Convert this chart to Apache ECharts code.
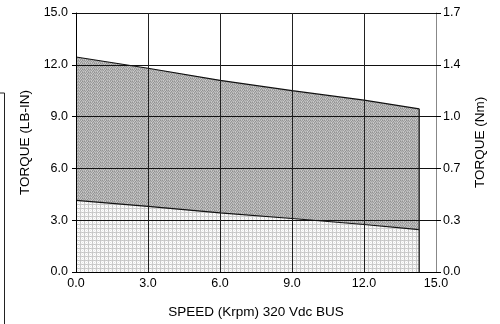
<!DOCTYPE html>
<html>
<head>
<meta charset="utf-8">
<script src="https://cdn.jsdelivr.net/npm/echarts@6/dist/echarts.min.js"></script>
<style>html,body{margin:0;padding:0;background:#fff;}#c{width:500px;height:324px;}</style>
</head>
<body>
<div id="c"></div>
<script>
// Data
var speedTicks = [0, 3, 6, 9, 12, 15];
var torqueLbInTicks = ['0.0', '3.0', '6.0', '9.0', '12.0', '15.0'];
var torqueNmTicks = ['0.0', '0.3', '0.7', '1.0', '1.4', '1.7'];
var peakSpeed = [0, 3, 6, 9, 12, 14.3];
var peakTorque = [12.45, 11.8, 11.1, 10.5, 9.95, 9.45];
var contSpeed = [0, 3, 6, 9, 12, 14.3];
var contTorque = [4.15, 3.8, 3.42, 3.1, 2.75, 2.45];
var maxSpeed = 14.3;

function pairs(xs, ys) { return xs.map(function (x, i) { return [x, ys[i]]; }); }

function makePattern(w, h, cells) {
  var cv = document.createElement('canvas');
  cv.width = w; cv.height = h;
  var ctx = cv.getContext('2d');
  for (var y = 0; y < h; y++) for (var x = 0; x < w; x++) {
    ctx.fillStyle = cells[y][x];
    ctx.fillRect(x, y, 1, 1);
  }
  return cv;
}
var darkPat = makePattern(6, 3, [
  ['#949494', '#bcbcbc', '#a2a2a2', '#c8c8c8', '#909090', '#b0b0b0'],
  ['#b6b6b6', '#9c9c9c', '#c6c6c6', '#929292', '#bebebe', '#a6a6a6'],
  ['#aaaaaa', '#cccccc', '#9a9a9a', '#b2b2b2', '#a6a6a6', '#c2c2c2']
]);
var lightPat = makePattern(4, 4, [
  ['#c4c4c4', '#d0d0d0', '#c4c4c4', '#d0d0d0'],
  ['#cccccc', '#f2f2f2', '#ffffff', '#eeeeee'],
  ['#c4c4c4', '#ffffff', '#e4e4e4', '#ffffff'],
  ['#d0d0d0', '#eeeeee', '#ffffff', '#f4f4f4']
]);

var chart = echarts.init(document.getElementById('c'), null, {renderer: 'canvas'});
var font = 'Liberation Sans, Arial, Helvetica, sans-serif';
chart.setOption({
  animation: false,
  backgroundColor: '#fff',
  grid: {left: 76, right: 64, top: 13, bottom: 51},
  xAxis: {
    type: 'value', min: 0, max: 15, interval: 3, z: 10,
    name: 'SPEED (Krpm) 320 Vdc BUS', nameLocation: 'middle', nameGap: 33,
    nameTextStyle: {fontFamily: font, fontSize: 13.5, color: '#000'},
    axisLine: {show: true, lineStyle: {color: '#000', width: 1}},
    axisTick: {show: false},
    axisLabel: {fontFamily: font, fontSize: 12.5, color: '#000', margin: 5,
      formatter: function (v) { return v.toFixed(1); }},
    splitLine: {show: true, lineStyle: {color: ['#222', '#222', '#222', '#222', '#222', '#888'], width: 1}}
  },
  yAxis: [{
    type: 'value', min: 0, max: 15, interval: 3, position: 'left', z: 10,
    name: 'TORQUE (LB-IN)', nameLocation: 'middle', nameGap: 42, nameRotate: 90,
    nameTextStyle: {fontFamily: font, fontSize: 13.5, color: '#000'},
    axisLine: {show: true, lineStyle: {color: '#000', width: 1}},
    axisTick: {show: true, length: 4, lineStyle: {color: '#000'}},
    axisLabel: {fontFamily: font, fontSize: 12.5, color: '#000', margin: 8,
      formatter: function (v) { return torqueLbInTicks[Math.round(v / 3)]; }},
    splitLine: {show: true, lineStyle: {color: '#111', width: 1}}
  }, {
    type: 'value', min: 0, max: 15, interval: 3, position: 'right', z: 10,
    name: 'TORQUE (Nm)', nameLocation: 'middle', nameGap: 37, nameRotate: 90,
    nameTextStyle: {fontFamily: font, fontSize: 13.5, color: '#000'},
    axisLine: {show: true, lineStyle: {color: '#888', width: 1}},
    axisTick: {show: true, length: 5, lineStyle: {color: '#000'}},
    axisLabel: {fontFamily: font, fontSize: 12.5, color: '#000', margin: 7,
      formatter: function (v) { return torqueNmTicks[Math.round(v / 3)]; }},
    splitLine: {show: false}
  }],
  series: [{
    type: 'line', data: pairs(peakSpeed, peakTorque), symbol: 'none', z: 2,
    lineStyle: {color: '#111', width: 1.2},
    areaStyle: {color: {image: darkPat, repeat: 'repeat'}, opacity: 1}
  }, {
    type: 'line', data: pairs(contSpeed, contTorque), symbol: 'none', z: 3,
    lineStyle: {color: '#111', width: 1.2},
    areaStyle: {color: {image: lightPat, repeat: 'repeat'}, opacity: 1}
  }, {
    type: 'line', data: [[maxSpeed, 0], [maxSpeed, peakTorque[peakTorque.length - 1]]],
    symbol: 'none', z: 4, lineStyle: {color: '#333', width: 1.5}
  }],
  graphic: [{
    type: 'polyline', silent: true,
    shape: {points: [[0, 93], [4.5, 93], [4.5, 324]]},
    style: {stroke: '#222', lineWidth: 1, fill: null}
  }]
});
</script>
</body>
</html>
